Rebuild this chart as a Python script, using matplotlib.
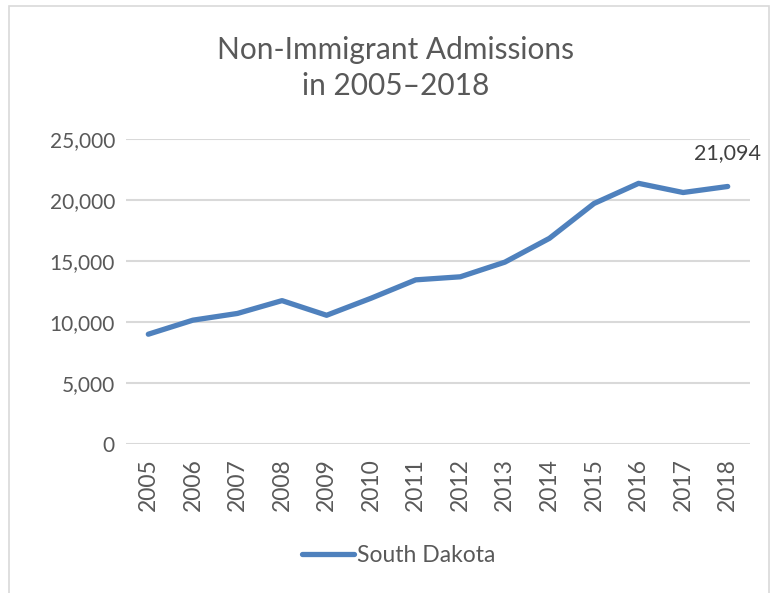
import matplotlib
matplotlib.use('Agg')
import matplotlib.pyplot as plt
from matplotlib.patches import Rectangle

years = [str(y) for y in range(2005, 2019)]
admissions = [9000, 10150, 10700, 11750, 10550, 11950, 13450, 13700,
              14900, 16850, 19700, 21350, 20600, 21094]
series_name = 'South Dakota'
title = 'Non-Immigrant Admissions\nin 2005\u20132018'

plt.rcParams['font.family'] = ['Lato', 'DejaVu Sans']
text_color = '#595959'
line_color = '#4F81BD'

fig = plt.figure(figsize=(7.78, 5.93), dpi=100)
ax = fig.add_axes([0.162, 0.251, 0.802, 0.515])

x = list(range(len(years)))
ax.plot(x, admissions, color=line_color, lw=3.8, solid_capstyle='round',
        solid_joinstyle='round', label=series_name, zorder=3)
ax.annotate(f'{admissions[-1]:,}', (x[-1], admissions[-1]), xytext=(0, 17),
            textcoords='offset points', ha='center', va='bottom',
            fontsize=15.5, color='#404040')

ax.set_xlim(-0.5, len(years) - 0.5)
ax.set_ylim(0, 25000)
ax.set_yticks(range(0, 25001, 5000))
ax.set_yticklabels([f'{v:,}' for v in range(0, 25001, 5000)])
ax.set_xticks(x)
ax.set_xticklabels(years, rotation=90)
ax.grid(axis='y', color='#D9D9D9', lw=1.5)
ax.set_axisbelow(True)
for s in ax.spines.values():
    s.set_visible(False)
ax.tick_params(axis='y', length=0, labelsize=15, colors=text_color, pad=8)
ax.tick_params(axis='x', length=0, labelsize=16.5, colors=text_color, pad=10)

fig.text(0.508, 0.885, title, ha='center', va='center', fontsize=21.5,
         color=text_color, linespacing=1.35)

leg = fig.legend(loc='center', bbox_to_anchor=(0.512, 0.063), frameon=False,
                 fontsize=16.5, handlelength=2.3, handletextpad=0.1)
for t in leg.get_texts():
    t.set_color(text_color)

fig.patches.append(Rectangle((0.012, -0.01), 0.976, 1.0, transform=fig.transFigure,
                             fill=False, edgecolor='#D9D9D9', lw=1.2))

fig.savefig('out.png', dpi=100)
